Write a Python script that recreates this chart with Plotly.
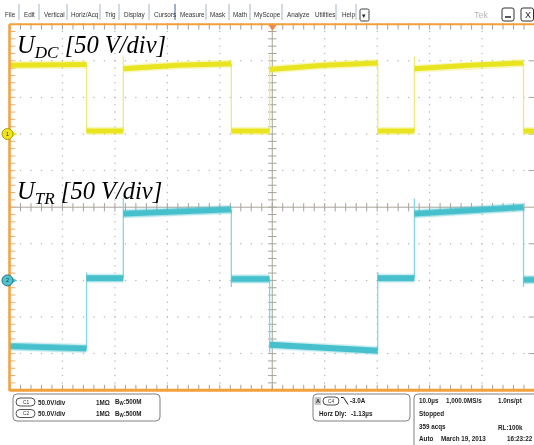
import plotly.graph_objects as go
import numpy as np

# ---------------- data (time in µs, 10 µs/div; voltages in V, 50 V/div) ----------------
edge_t = [-35.4, -28.4, -7.8, -0.5, 20.1, 27.1, 47.9]          # switching instants
# U_DC (channel 1): level at start / middle / end of each of the 8 segments
udc_start = [94, 4, 89, 4, 88, 4, 89, 4]
udc_mid   = [95, 4, 94, 4, 94, 4, 94, 4]
udc_end   = [95, 4, 96, 4, 97, 4, 97, 4]
udc_peak  = [2, 106, 2, 108, 2, 106, 2]                       # edge over/undershoot
# U_TR (channel 2)
utr_start = [-90, 3, 91, 2, -88, 3, 91, 1]
utr_mid   = [-92, 3, 95, 2, -92, 3, 96, 1]
utr_end   = [-93, 3, 97, 2, -96, 3, 100, 1]
utr_peak  = [11, 113, -9, -99, 11, 112, -9]

ch1_offset_div = 2.0
ch2_offset_div = -2.0
volts_per_div = 50.0

menu_items = ["File", "Edit", "Vertical", "Horiz/Acq", "Trig", "Display", "Cursors",
              "Measure", "Mask", "Math", "MyScope", "Analyze", "Utilities", "Help"]

# ---------------- geometry ----------------
W, H = 534, 445
PX0, PX1 = 10.0, 534.0
PY0, PY1 = 24.2, 390.2
XR = [-50, 49.9]
YR = [-5, 5]

def fx(x):
    return x / W

def fy(y):
    return 1 - y / H

fig = go.Figure()

YEL = "#E9E420"
YEL_EDGE = "#EEEA80"
CYA = "#45C0CC"
CYA_EDGE = "#86D8E0"
ORANGE = "#F4A03A"
GRID = "#B8B8B8"

bounds = [-50] + edge_t + [50]

def band(start, mid, end, off):
    xs, ys = [], []
    for i in range(len(start)):
        t0, t1 = bounds[i], bounds[i + 1]
        xs += [t0, (t0 + t1) / 2, t1, None]
        ys += [start[i] / volts_per_div + off, mid[i] / volts_per_div + off,
               end[i] / volts_per_div + off, None]
    return xs, ys

def edges(start, end, peak, off):
    xs, ys = [], []
    for i, t in enumerate(edge_t):
        xs += [t, t, t, None]
        ys += [end[i] / volts_per_div + off, peak[i] / volts_per_div + off,
               start[i + 1] / volts_per_div + off, None]
    return xs, ys

# ---------------- graticule ----------------
major_x = [v for v in np.arange(-40, 41, 10) if v != 0]
minor_x = np.arange(-50, 50.1, 2)
major_y = [v for v in np.arange(-4, 4.1, 1) if v != 0]
minor_y = np.arange(-5, 5.01, 0.2)
gx, gy = [], []
for xv in major_x:
    for yv in minor_y:
        gx.append(xv); gy.append(yv)
for yv in major_y:
    for xv in minor_x:
        gx.append(xv); gy.append(yv)
fig.add_trace(go.Scatter(x=gx, y=gy, mode="markers", hoverinfo="skip",
                         marker=dict(size=1.5, color=GRID)))

# crosshair
fig.add_shape(type="line", xref="x", yref="y", x0=0, x1=0, y0=-5, y1=5,
              line=dict(color="#A8A49C", width=1), layer="below")
fig.add_shape(type="line", xref="x", yref="y", x0=-50, x1=50, y0=0, y1=0,
              line=dict(color="#A8A49C", width=1), layer="below")
fig.add_trace(go.Scatter(x=minor_x, y=[0] * len(minor_x), mode="markers", hoverinfo="skip",
                         marker=dict(symbol="line-ns", size=6, line=dict(width=1, color="#A8A49C"))))
fig.add_trace(go.Scatter(x=[0] * len(minor_y), y=minor_y, mode="markers", hoverinfo="skip",
                         marker=dict(symbol="line-ew", size=6, line=dict(width=1, color="#A8A49C"))))

# border ticks
dy2 = 2.2 / 36.6
dx2 = 2.2 / 52.4 * 10
fig.add_trace(go.Scatter(x=list(minor_x) * 2, y=[5 - dy2] * len(minor_x) + [-5 + dy2] * len(minor_x),
                         mode="markers", hoverinfo="skip", cliponaxis=False,
                         marker=dict(symbol="line-ns", size=4.5, line=dict(width=1, color="#A0A0A0"))))
fig.add_trace(go.Scatter(x=[-50 + dx2] * len(minor_y), y=minor_y, mode="markers", hoverinfo="skip",
                         cliponaxis=False,
                         marker=dict(symbol="line-ew", size=4.5, line=dict(width=1, color="#E8B070"))))
fig.add_trace(go.Scatter(x=[49.9 - dx2] * len(major_y), y=major_y, mode="markers", hoverinfo="skip",
                         cliponaxis=False,
                         marker=dict(symbol="line-ew", size=4.5, line=dict(width=1, color="#A0A0A0"))))

# ---------------- waveforms ----------------
for (st, md, en, pk, off, col, ecol, w) in [
        (udc_start, udc_mid, udc_end, udc_peak, ch1_offset_div, YEL, YEL_EDGE, 5),
        (utr_start, utr_mid, utr_end, utr_peak, ch2_offset_div, CYA, CYA_EDGE, 6)]:
    ex, ey = edges(st, en, pk, off)
    fig.add_trace(go.Scatter(x=ex, y=ey, mode="lines", hoverinfo="skip",
                             line=dict(color=ecol, width=1.3)))
    bx, by = band(st, md, en, off)
    fig.add_trace(go.Scatter(x=bx, y=by, mode="lines", hoverinfo="skip", opacity=0.3,
                             line=dict(color=col, width=w + 3)))
    fig.add_trace(go.Scatter(x=bx, y=by, mode="lines", hoverinfo="skip",
                             line=dict(color=col, width=w)))

# ---------------- orange frame ----------------
fig.add_shape(type="line", xref="paper", yref="paper", x0=fx(PX0), x1=1, y0=fy(PY0), y1=fy(PY0),
              line=dict(color=ORANGE, width=2))
fig.add_shape(type="line", xref="paper", yref="paper", x0=fx(PX0), x1=1, y0=fy(PY1), y1=fy(PY1),
              line=dict(color=ORANGE, width=3))
fig.add_shape(type="line", xref="paper", yref="paper", x0=fx(PX0 - 0.5), x1=fx(PX0 - 0.5),
              y0=fy(PY0), y1=fy(PY1 + 1), line=dict(color=ORANGE, width=2.5))

# trigger position marker
fig.add_shape(type="path", xref="paper", yref="paper",
              path=f"M {fx(268.5)},{fy(25)} L {fx(276.5)},{fy(25)} L {fx(272.5)},{fy(31)} Z",
              fillcolor="#F08A4A", line=dict(width=0))

# ---------------- helpers ----------------
def txt(x, y, s, size=6.5, color="#222222", bold=False, anchor="left", family="Liberation Sans"):
    fig.add_annotation(x=fx(x), y=fy(y), xref="paper", yref="paper",
                       text=("<b>" + s + "</b>") if bold else s, showarrow=False,
                       xanchor=anchor, yanchor="middle", borderpad=0,
                       font=dict(size=size, color=color, family=family))

def rrect(x0, y0, x1, y1, r, line_color="#808080", fill="rgba(0,0,0,0)", width=1):
    p = (f"M {fx(x0 + r)},{fy(y0)} L {fx(x1 - r)},{fy(y0)} Q {fx(x1)},{fy(y0)} {fx(x1)},{fy(y0 + r)} "
         f"L {fx(x1)},{fy(y1 - r)} Q {fx(x1)},{fy(y1)} {fx(x1 - r)},{fy(y1)} "
         f"L {fx(x0 + r)},{fy(y1)} Q {fx(x0)},{fy(y1)} {fx(x0)},{fy(y1 - r)} "
         f"L {fx(x0)},{fy(y0 + r)} Q {fx(x0)},{fy(y0)} {fx(x0 + r)},{fy(y0)} Z")
    fig.add_shape(type="path", xref="paper", yref="paper", path=p,
                  line=dict(color=line_color, width=width), fillcolor=fill)

def hline_px(x0, x1, y, color, width=1):
    fig.add_shape(type="line", xref="paper", yref="paper", x0=fx(x0), x1=fx(x1), y0=fy(y), y1=fy(y),
                  line=dict(color=color, width=width))

def vline_px(x, y0, y1, color, width=1):
    fig.add_shape(type="line", xref="paper", yref="paper", x0=fx(x), x1=fx(x), y0=fy(y0), y1=fy(y1),
                  line=dict(color=color, width=width))

# ---------------- menu bar ----------------
menu_x = [4, 23, 43, 70, 104, 123, 153, 179, 209, 232, 253, 286, 314, 341]
sep_x = [19, 39, 67, 100, 119, 149, 175, 206, 229, 250, 282, 336, 356]
for name, xm in zip(menu_items, menu_x):
    txt(xm, 15, name, size=6.3, color="#303030")
for i, xs in enumerate(sep_x):
    vline_px(xs, 4, 20, "#4060A0" if i == 6 else "#A8B4CC", 1)
rrect(360, 9, 369, 21, 1.5, line_color="#404040", fill="white")
txt(364.5, 15.5, "▾", size=7, color="#202020", anchor="center", family="DejaVu Sans")
txt(481.5, 14.5, "Tek", size=9, color="#B8B8B8", anchor="center")
rrect(502, 8, 514, 21, 2, line_color="#303030", fill="white")
hline_px(505, 511, 17, "#202020", 1.5)
rrect(521, 8, 533.5, 21, 2, line_color="#303030", fill="white")
txt(527.5, 14.5, "X", size=9, color="#202020", anchor="center")

# ---------------- channel ground markers ----------------
for (cy, fill, edge, lab) in [(134, "#F0E420", "#A89A00", "1"), (280.4, "#4CC3CE", "#1F6F78", "2")]:
    fig.add_shape(type="path", xref="paper", yref="paper",
                  path=f"M {fx(12)},{fy(cy - 2.5)} L {fx(17.5)},{fy(cy)} L {fx(12)},{fy(cy + 2.5)} Z",
                  fillcolor=fill, line=dict(width=0))
    fig.add_shape(type="circle", xref="paper", yref="paper",
                  x0=fx(2), x1=fx(13), y0=fy(cy + 5.5), y1=fy(cy - 5.5),
                  fillcolor=fill, line=dict(color=edge, width=1))
    txt(7.5, cy, lab, size=5.5, color="#303030", anchor="center")

# ---------------- big labels ----------------
fig.add_annotation(x=fx(15), y=fy(47), xref="paper", yref="paper", showarrow=False,
                   xanchor="left", yanchor="middle",
                   text="<i>U<sub>DC</sub> [50 V/div]</i>",
                   font=dict(size=24.5, color="#000000", family="Liberation Serif"))
fig.add_annotation(x=fx(15), y=fy(192), xref="paper", yref="paper", showarrow=False,
                   xanchor="left", yanchor="middle",
                   text="<i>U<sub>TR</sub> [50 V/div]</i>",
                   font=dict(size=24.5, color="#000000", family="Liberation Serif"))

# ---------------- status area ----------------
rrect(13, 394, 160, 421, 4)
for (yy, lab) in [(402, "C1"), (413.5, "C2")]:
    rrect(16, yy - 4, 35, yy + 4, 4, line_color="#505050", fill="white")
    txt(25.5, yy, lab, size=4.8, color="#303030", anchor="center")
    txt(37, yy, "50.0V/div", size=6.3, bold=True)
    txt(95, yy, "1MΩ", size=6.3, bold=True)
    txt(114, yy, "B<sub>W</sub>:500M", size=6.3, bold=True)

rrect(313, 394, 410, 421, 4)
fig.add_shape(type="rect", xref="paper", yref="paper", x0=fx(314.5), x1=fx(321), y0=fy(405), y1=fy(397),
              fillcolor="#C8C8C8", line=dict(width=0))
txt(317.8, 401, "A", size=5.5, color="#202020", anchor="center", bold=True)
rrect(323, 397, 339, 405, 4, line_color="#505050", fill="white")
txt(331, 401, "C4", size=4.8, color="#303030", anchor="center")
fig.add_shape(type="path", xref="paper", yref="paper",
              path=f"M {fx(341)},{fy(397.5)} L {fx(343.5)},{fy(397.5)} L {fx(348)},{fy(404.5)}",
              line=dict(color="#202020", width=1))
txt(349, 400.5, "-3.0A", size=6.3, bold=True)
txt(318, 413.5, "Horz Dly:", size=6.3, bold=True)
txt(350, 413.5, "-1.13µs", size=6.3, bold=True)

rrect(414, 394, 545, 460, 4)
txt(418, 400.5, "10.0µs", size=6.3, bold=True)
txt(445, 400.5, "1,000.0MS/s", size=6.3, bold=True)
txt(497, 400.5, "1.0ns/pt", size=6.3, bold=True)
txt(418, 414, "Stopped", size=6.3, bold=True)
txt(418, 427, "359 acqs", size=6.3, bold=True)
txt(497, 427, "RL:100k", size=6.3, bold=True)
txt(418, 438.5, "Auto", size=6.3, bold=True)
txt(440, 438.5, "March 19, 2013", size=6.3, bold=True)
txt(506, 438.5, "16:23:22", size=6.3, bold=True)

# ---------------- layout ----------------
ax_common = dict(showgrid=False, zeroline=False, showticklabels=False, showline=False,
                 ticks="", fixedrange=True)
fig.update_layout(
    width=W, height=H, autosize=False,
    margin=dict(l=0, r=0, t=0, b=0),
    paper_bgcolor="white", plot_bgcolor="white",
    showlegend=False,
    xaxis=dict(domain=[fx(PX0), fx(PX1)], range=XR, **ax_common),
    yaxis=dict(domain=[fy(PY1), fy(PY0)], range=YR, **ax_common),
)

fig.write_html("out.html", config={"displayModeBar": False},
               post_script="document.body.style.margin='0px';document.body.style.overflow='hidden';")
